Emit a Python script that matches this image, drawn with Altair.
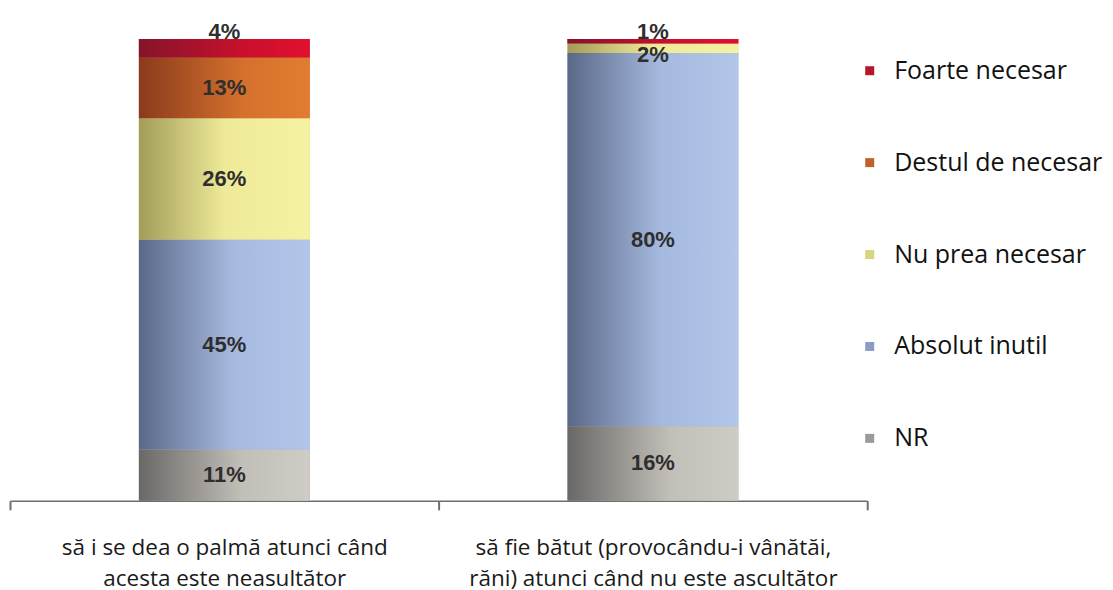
import altair as alt
import pandas as pd

categories = [
    "să i se dea o palmă atunci când\nacesta este neasultător",
    "să fie bătut (provocându-i vânătăi,\nrăni) atunci când nu este ascultător",
]
series = ["NR", "Absolut inutil", "Nu prea necesar", "Destul de necesar", "Foarte necesar"]
values_cat1 = [11, 45, 26, 13, 4]
values_cat2 = [16, 80, 2, 0, 1]
legend_order = ["Foarte necesar", "Destul de necesar", "Nu prea necesar", "Absolut inutil", "NR"]
flat_colors = {
    "Foarte necesar": "#b8142c",
    "Destul de necesar": "#c0602a",
    "Nu prea necesar": "#d8d480",
    "Absolut inutil": "#8c9cc4",
    "NR": "#9c9a96",
}
gradients = {
    "NR": [("#6a6866", 0), ("#c2beb8", 0.6), ("#cfcbc5", 1)],
    "Absolut inutil": [("#5a6888", 0), ("#a6badf", 0.55), ("#b2c6ea", 1)],
    "Nu prea necesar": [("#a29c58", 0), ("#eeea98", 0.5), ("#f5f2a2", 1)],
    "Destul de necesar": [("#8a3a1c", 0), ("#d4702c", 0.6), ("#e27c32", 1)],
    "Foarte necesar": [("#84142a", 0), ("#c8102c", 0.6), ("#e2102e", 1)],
}

rows = []
for cat, vals in zip(categories, [values_cat1, values_cat2]):
    for i, (s, v) in enumerate(zip(series, vals)):
        rows.append({"cat": cat, "series": s, "value": v, "order": i})
df = pd.DataFrame(rows)

W, H = 858, 467
BAR_W = 171

base = alt.Chart(df).transform_stack(
    stack="value", as_=["y0", "y1"], groupby=["cat"], sort=[alt.SortField("order")]
)

xenc = alt.X(
    "cat:N",
    sort=categories,
    title=None,
    scale=alt.Scale(paddingInner=0, paddingOuter=0),
    axis=alt.Axis(
        labelAngle=0,
        labelExpr="split(datum.label, '\\n')",
        labelFont="Open Sans",
        labelFontSize=22.5,
        labelColor="#1a1a1a",
        labelLineHeight=31,
        labelPadding=27,
        labelLimit=600,
        tickBand="extent",
        tickSize=9,
        tickColor="#6e6e6e",
        tickWidth=2,
        domainColor="#6e6e6e",
        domainWidth=1.5,
        grid=False,
    ),
)
yscale = alt.Scale(domain=[0, 100], nice=False)

flat = base.mark_bar(width=BAR_W).encode(
    x=xenc,
    y=alt.Y("y0:Q", scale=yscale, axis=None),
    y2="y1:Q",
    color=alt.Color(
        "series:N",
        scale=alt.Scale(domain=legend_order, range=[flat_colors[s] for s in legend_order]),
        legend=alt.Legend(
            title=None,
            orient="none",
            legendX=848,
            legendY=24,
            symbolType="square",
            symbolSize=81,
            symbolStrokeWidth=0,
            labelFont="Open Sans",
            labelFontSize=25,
            labelColor="#111111",
            labelOffset=12,
            labelLimit=400,
            rowPadding=66,
            padding=0,
        ),
    ),
)

layers = [flat]
for s in series:
    g = alt.Gradient(
        gradient="linear",
        stops=[alt.GradientStop(color=c, offset=o) for c, o in gradients[s]],
        x1=0, x2=1, y1=0, y2=0,
    )
    layers.append(
        base.transform_filter(alt.datum.series == s).mark_bar(width=BAR_W, fill=g).encode(
            x=alt.X("cat:N", sort=categories),
            y=alt.Y("y0:Q", scale=yscale),
            y2="y1:Q",
        )
    )

text_style = dict(font="Liberation Sans", fontSize=22, fontWeight="bold", color="#2e2e2e", baseline="middle")
lab = base.transform_calculate(mid="(datum.y0 + datum.y1) / 2", label="datum.value + '%'")

mid_labels = lab.transform_filter(
    (alt.datum.series != "Foarte necesar") & (alt.datum.value >= 5)
).mark_text(**text_style).encode(
    x=alt.X("cat:N", sort=categories), y=alt.Y("mid:Q", scale=yscale), text="label:N"
)
top_labels = lab.transform_filter(alt.datum.series == "Foarte necesar").mark_text(dy=-7, **text_style).encode(
    x=alt.X("cat:N", sort=categories), y=alt.Y("y1:Q", scale=yscale), text="label:N"
)
small_labels = lab.transform_filter(
    (alt.datum.series != "Foarte necesar") & (alt.datum.value > 0) & (alt.datum.value < 5)
).mark_text(dy=7, **text_style).encode(
    x=alt.X("cat:N", sort=categories), y=alt.Y("mid:Q", scale=yscale), text="label:N"
)
layers += [mid_labels, top_labels, small_labels]

chart = alt.layer(*layers).properties(
    width=W,
    height=H,
    background="white",
    autosize=alt.AutoSizeParams(type="none"),
    padding={"left": 2, "top": 26, "right": 238, "bottom": 88},
).configure_view(stroke=None)

chart.save("out.html", embed_options={"renderer": "svg", "actions": False})
